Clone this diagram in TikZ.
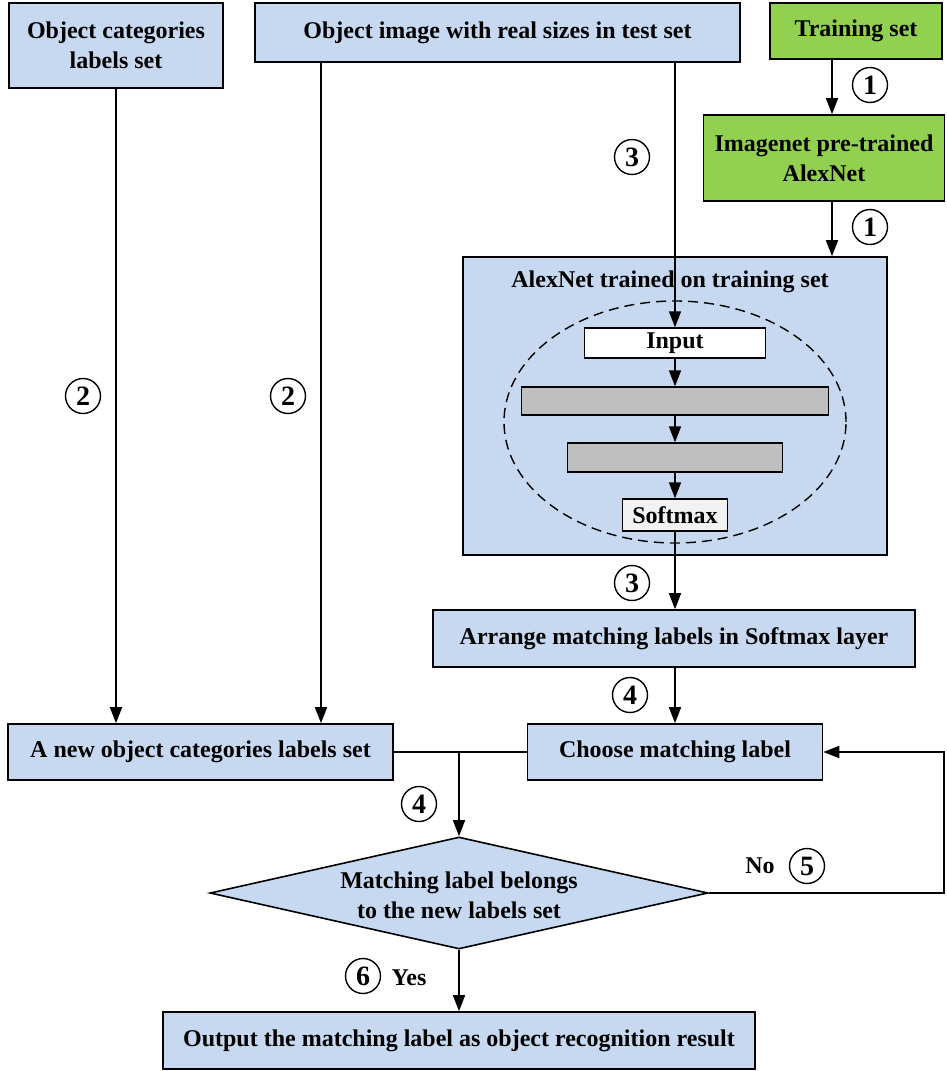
\documentclass[tikz,border=0pt]{standalone}
\usepackage{fontspec}
\setmainfont{Liberation Serif}
\usetikzlibrary{arrows.meta,shapes.geometric}
\definecolor{boxblue}{RGB}{198,217,240}
\definecolor{boxgreen}{RGB}{146,208,80}
\definecolor{laygray}{RGB}{191,191,191}
\definecolor{softgray}{RGB}{242,242,242}
\tikzset{
  txt/.style={font=\fontsize{24}{30}\selectfont\bfseries, align=center},
  bbox/.style={txt, draw, line width=1.6pt, fill=boxblue, inner sep=0pt},
  gbox/.style={bbox, fill=boxgreen},
  layer/.style={txt, draw, line width=1.4pt, inner sep=0pt},
  arr/.style={line width=1.6pt, -{Triangle[length=16pt,width=12pt]}},
  ln/.style={line width=1.6pt},
  numc/.style={circle, draw, line width=1.4pt, minimum size=35pt, inner sep=0pt,
     font=\fontsize{28}{28}\selectfont\bfseries},
}
\begin{document}
\begin{tikzpicture}[x=1pt,y=-1pt]
\useasboundingbox (0,0) rectangle (946,1071);
% top boxes
\node[bbox, minimum width=214pt, minimum height=85pt] (catA) at (116,45.5) {Object categories\\labels set};
\node[bbox, minimum width=485pt, minimum height=59pt] (imgB) at (497.5,32.5) {Object image with real sizes in test set};
\node[gbox, minimum width=172pt, minimum height=56pt] (train) at (856,31) {Training set};
\node[gbox, minimum width=241pt, minimum height=86pt] (imnet) at (824,158) {Imagenet pre-trained\\AlexNet};
% AlexNet block
\node[bbox, minimum width=424pt, minimum height=298pt] (alex) at (675,406) {};
\node[txt] (alextitle) at (670,282) {AlexNet trained on training set};
\node[draw, dashed, dash pattern=on 10pt off 6pt, line width=1.4pt, ellipse, minimum width=342pt, minimum height=242pt, inner sep=0pt] (ell) at (675,422) {};
\node[layer, fill=white, minimum width=181pt, minimum height=30pt] (input) at (675,343) {Input};
\node[layer, fill=laygray, minimum width=307pt, minimum height=28pt] (g1) at (675,401) {};
\node[layer, fill=laygray, minimum width=215pt, minimum height=29pt] (g2) at (675,457.5) {};
\node[layer, fill=softgray, minimum width=105pt, minimum height=32pt] (soft) at (675,515) {Softmax};
% middle boxes
\node[bbox, minimum width=482pt, minimum height=57pt] (arrange) at (674,638.5) {Arrange matching labels in Softmax layer};
\node[bbox, minimum width=295pt, minimum height=56pt] (choose) at (675,752) {Choose matching label};
\node[bbox, minimum width=385pt, minimum height=56pt] (newset) at (200.5,752) {A new object categories labels set};
% decision
\node[diamond, draw, line width=1.6pt, fill=boxblue, minimum width=498pt, minimum height=112pt, inner sep=0pt] (dec) at (459,893) {};
\node[txt] (dectext) at (459,895) {Matching label belongs\\to the new labels set};
\node[bbox, minimum width=592pt, minimum height=57pt] (output) at (459,1040.5) {Output the matching label as object recognition result};
% connectors
\draw[arr] (catA.south) -- (catA.south |- newset.north);
\draw[arr] ([xshift=-176.5pt]imgB.south) coordinate (b2) -- (b2 |- newset.north);
\draw[arr] (imgB.south -| input.north) -- (input.north);
\draw[arr] ([xshift=-24pt]train.south) coordinate (t1) -- (t1 |- imnet.north);
\draw[arr] ([xshift=8pt]imnet.south) coordinate (t2) -- (t2 |- alex.north);
\draw[arr] (input.south) -- (g1.north);
\draw[arr] (g1.south) -- (g2.north);
\draw[arr] (g2.south) -- (soft.north);
\draw[arr] (soft.south) -- (soft.south |- arrange.north);
\draw[arr] (arrange.south -| choose.north) -- (choose.north);
\draw[ln] (newset.east) -- (choose.west);
\draw[arr] (newset.east -| dec.north) -- (dec.north);
\draw[arr] (dec.east) -- ++(235pt,0) coordinate (c5) |- (choose.east);
\draw[arr] (dec.south) -- (output.north);
% circled numbers
\node[numc] (n1a) at (870,85) {1};
\node[numc] (n1b) at (870,227) {1};
\node[numc] (n3a) at (632,157) {3};
\node[numc] (n2a) at (83,396) {2};
\node[numc] (n2b) at (288,396) {2};
\node[numc] (n3b) at (632,583) {3};
\node[numc] (n4a) at (630,695) {4};
\node[numc] (n4b) at (419,804) {4};
\node[numc] (n5) at (807,866) {5};
\node[numc] (n6) at (363,976) {6};
\node[txt] (no) at (760,866) {No};
\node[txt] (yes) at (409,978) {Yes};
\end{tikzpicture}
\end{document}
